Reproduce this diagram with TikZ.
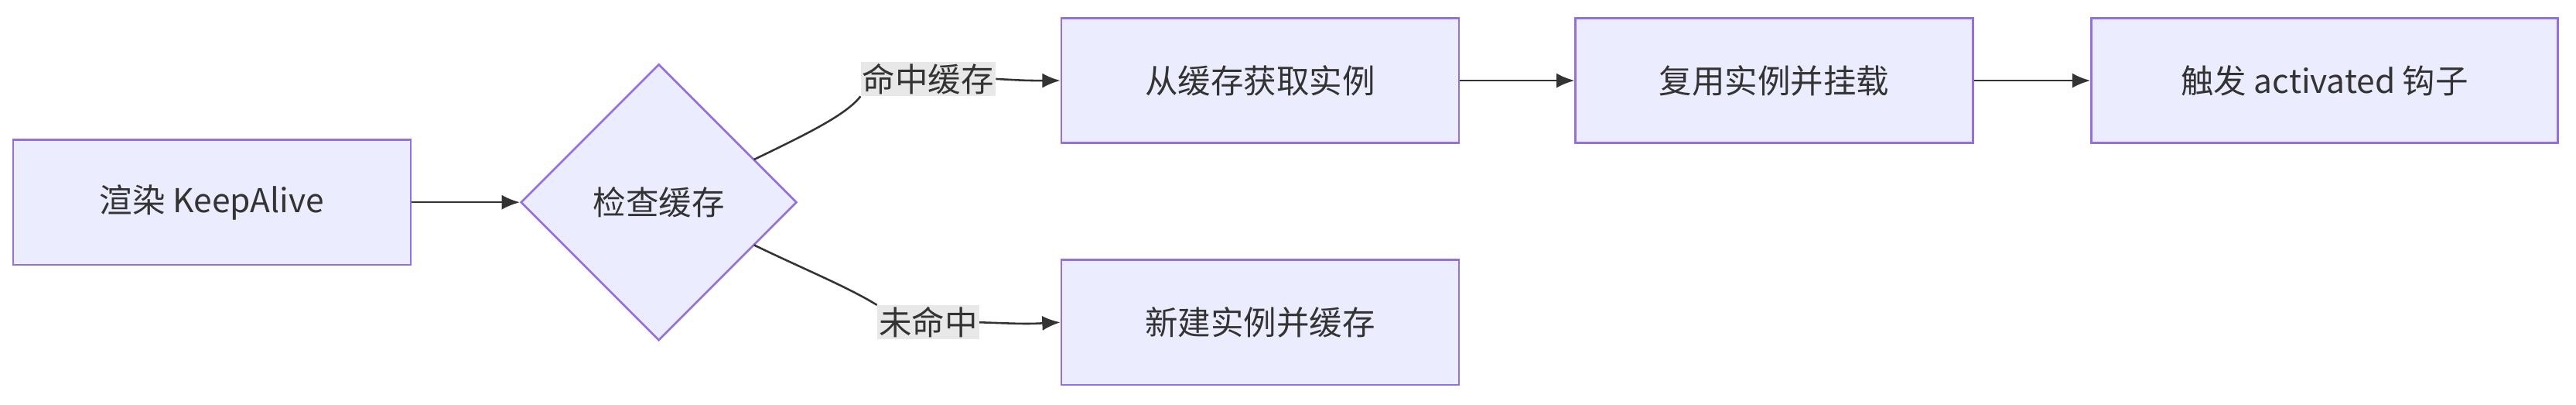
\documentclass[tikz,border=0pt]{standalone}
\usepackage{fontspec}
\setmainfont{Noto Sans CJK SC}
\usetikzlibrary{shapes.geometric,arrows.meta}
\definecolor{nf}{HTML}{ECECFF}
\definecolor{ns}{HTML}{9370DB}
\definecolor{tx}{HTML}{333333}
\definecolor{lb}{HTML}{E8E8E8}
\begin{document}
\begin{tikzpicture}[x=1pt,y=-1pt,
  box/.style={draw=ns,fill=nf,line width=1.2pt,minimum width=242pt,minimum height=76pt,inner sep=0pt,text=tx,font=\fontsize{20}{24}\selectfont},
  dia/.style={draw=ns,fill=nf,line width=1.2pt,diamond,minimum width=168pt,minimum height=168pt,inner sep=0pt,text=tx,font=\fontsize{20}{24}\selectfont},
  lbl/.style={fill=lb,inner sep=1pt,text=tx,font=\fontsize{20}{24}\selectfont},
  arr/.style={draw=tx,line width=1.2pt,-{Latex[length=11pt,width=9pt]}}]
\useasboundingbox (0,0) rectangle (1568,246);
\node[box] (a) at (129,123) {渲染 KeepAlive};
\node[dia] (d) at (401,123) {检查缓存};
\node[box] (b) at (767,49) {从缓存获取实例};
\node[box] (c) at (1080,49) {复用实例并挂载};
\node[box,minimum width=284pt] (e) at (1415,49) {触发 activated 钩子};
\node[box] (f) at (767,196) {新建实例并缓存};
\node[lbl] (l1) at (565,48) {命中缓存};
\node[lbl] (l2) at (565,196) {未命中};
\draw[arr] (a.east) -- (d.west);
\draw[line width=1.2pt,draw=tx] (459,97) .. controls (490,82) and (515,70) .. (l1.south west);
\draw[arr] (l1.east) .. controls (625,49) .. (b.west);
\draw[line width=1.2pt,draw=tx] (459,149) .. controls (490,164) and (515,174) .. (l2.north west);
\draw[arr] (l2.east) .. controls (625,197) .. (f.west);
\draw[arr] (b) -- (c);
\draw[arr] (c) -- (e);
\end{tikzpicture}
\end{document}
